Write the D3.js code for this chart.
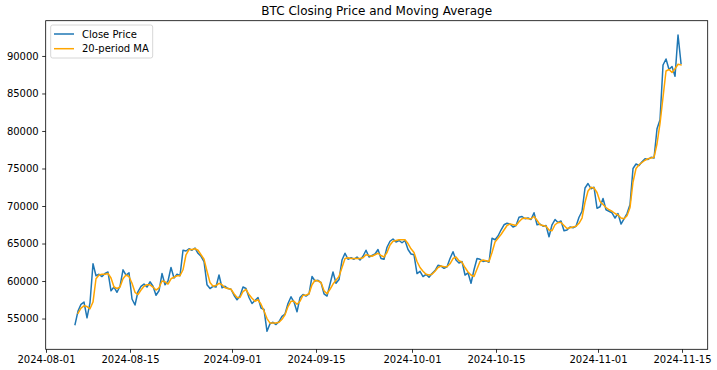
<!DOCTYPE html>
<html>
<head>
<meta charset="utf-8">
<script src="https://cdn.jsdelivr.net/npm/d3@7"></script>
<style>
    body { margin: 0; background: #fff; }
    text { font-family: "DejaVu Sans", sans-serif; fill: #000; }
</style>
</head>
<body>
<svg id="svgId"></svg>
<script>
// data: 12-hour samples starting 2024-08-05 20:00 UTC
var startTime = Date.UTC(2024, 7, 5, 20);
var stepHours = 12;

var closePrice = [
    54200, 56000, 56900, 57200, 55100, 57100, 62300, 60700, 60900, 60600,
    61000, 61200, 58700, 59200, 58500, 59300, 61500, 60800, 61100, 57600,
    56800, 58600, 59300, 59600, 59200, 59900, 59300, 58100, 58700, 61000,
    59500, 60000, 61800, 60400, 60900, 60700, 64100, 64000, 64300, 64100,
    64400, 63700, 63300, 62600, 59500, 59000, 59300, 59200, 60800, 59100,
    59300, 59000, 58900, 58100, 57500, 58000, 59200, 59000, 57800, 57000,
    57400, 57800, 56400, 56200, 53300, 54300, 54500, 54200, 54600, 55300,
    55600, 57000, 57900, 57200, 55900, 57800, 58200, 58000, 58300, 60600,
    60000, 60100, 59800, 58300, 58000, 59600, 61200, 59700, 60200, 62800,
    63700, 62900, 63100, 62900, 63200, 62800, 63300, 64100, 63200, 63400,
    63600, 64200, 63000, 62900, 64500, 65300, 65600, 65200, 65400, 65100,
    65400, 64200, 63600, 63500, 61000, 61300, 60600, 60900, 60500, 61000,
    61400, 62100, 62000, 61700, 61900, 63000, 63900, 62800, 62400, 62600,
    60800, 61100, 59700, 61500, 63000, 62900, 62600, 62700, 62500, 65700,
    65500, 66000, 66800, 67500, 67700, 67600, 67200, 67400, 68500, 68600,
    68300, 68400, 68200, 69100, 67500, 67600, 67300, 67400, 65900, 67500,
    68200, 67800, 68000, 66700, 66800, 67200, 67100, 67300, 68500, 69300,
    72400, 73000, 72300, 72500, 69700, 69900, 71000, 69500, 69300, 69100,
    68400, 69000, 67600, 68300, 69000, 70200, 75000, 75600, 75400, 75900,
    76300, 76200, 76500, 76400, 80300, 81500, 88800, 89600, 88200, 88600,
    87300, 92800, 89000
];

var movingAvg = [
    null, 55700, 56400, 56700, 56600, 56300, 57200, 60300, 60800, 60900,
    60900, 61000, 60400, 59200, 59000, 59200, 60300, 60800, 60600, 59700,
    58500, 58200, 58800, 59300, 59500, 59500, 59200, 58800, 59100, 60000,
    59900, 59600, 60300, 60500, 60700, 60700, 61500, 63500, 64200, 64200,
    64300, 64100, 63500, 62900, 61300, 59800, 59300, 59400, 59700, 59500,
    59100, 59000, 58900, 58300, 57800, 57800, 58600, 58900, 58200, 57700,
    57300, 57500, 56900, 56000, 55000, 54400, 54400, 54400, 54500, 54900,
    55500, 56600, 57300, 57300, 56900, 57300, 58100, 58100, 58300, 59500,
    60100, 60000, 59800, 58700, 58300, 58900, 59600, 60100, 60600, 61800,
    63000, 63100, 63000, 63000, 63000, 63000, 63100, 63500, 63400, 63300,
    63500, 63700, 63400, 63200, 63800, 64800, 65300, 65400, 65500, 65500,
    65500, 65000, 64300, 63800, 62600, 61800, 61300, 60900, 60800, 60900,
    61300, 61800, 62000, 61900, 61900, 62300, 63000, 63200, 62700, 62500,
    61800, 61200, 60800, 60600, 61600, 62600, 62800, 62700, 62600, 63800,
    65200, 65700, 66200, 66800, 67400, 67600, 67500, 67400, 67900, 68300,
    68400, 68300, 68300, 68600, 68100, 67500, 67400, 67300, 66800, 66700,
    67500, 67800, 67800, 67400, 67000, 67100, 67200, 67300, 67700, 68400,
    70500, 72000, 72500, 72400, 71800, 70600, 70200, 69800, 69500, 69300,
    69000, 68800, 68400, 68300, 68700, 69800, 73200, 75000, 75500, 75800,
    76100, 76300, 76400, 76500, 78300, 81000, 84500, 88000, 88200, 87800,
    88300, 88900, 88800
];

var yTicks = [55000, 60000, 65000, 70000, 75000, 80000, 85000, 90000];
var xTickLabels = ["2024-08-01", "2024-08-15", "2024-09-01", "2024-09-15",
    "2024-10-01", "2024-10-15", "2024-11-01", "2024-11-15"];
var seriesNames = ["Close Price", "20-period MA"];
var seriesColors = ["#1f77b4", "orange"];

function drawChart() {

    var svgWidth = 717, svgHeight = 370;
    var margin = { top: 20.7, right: 9.3, bottom: 20.7, left: 45.7 };
    var width = svgWidth - margin.left - margin.right;
    var height = svgHeight - margin.top - margin.bottom;

    var svg = d3.select("#svgId")
        .attr("width", svgWidth)
        .attr("height", svgHeight);

    // title
    svg.append("text")
        .attr("x", margin.left + width / 2)
        .attr("y", 15)
        .attr("text-anchor", "middle")
        .style("font-size", "12px")
        .text("BTC Closing Price and Moving Average");

    var g = svg.append("g")
        .attr("transform", "translate(" + margin.left + "," + margin.top + ")");

    var parse = d3.utcParse("%Y-%m-%d");
    var dates = closePrice.map(function (d, i) { return new Date(startTime + i * stepHours * 3600 * 1000); });

    // x axis range
    var x = d3.scaleUtc()
        .domain([new Date(Date.UTC(2024, 6, 31, 22, 48)), new Date(Date.UTC(2024, 10, 19, 6, 43))])
        .range([0, width]);

    var y = d3.scaleLinear()
        .domain([50900, 94700])
        .range([height, 0]);

    var xAxis = d3.axisBottom(x)
        .tickValues(xTickLabels.map(parse))
        .tickFormat(d3.utcFormat("%Y-%m-%d"))
        .tickSizeInner(3.5).tickSizeOuter(0).tickPadding(3.5);

    var yAxis = d3.axisLeft(y)
        .tickValues(yTicks)
        .tickFormat(d3.format("d"))
        .tickSizeInner(3.5).tickSizeOuter(0).tickPadding(3.5);

    var gx = g.append("g")
        .attr("transform", "translate(0," + height + ")")
        .call(xAxis);
    var gy = g.append("g").call(yAxis);

    [gx, gy].forEach(function (a) {
        a.select(".domain").remove();
        a.selectAll("line").attr("stroke", "#000").attr("stroke-width", 0.8);
        a.selectAll("text").style("font-size", "10px").attr("fill", "#000");
    });

    // lines
    var line = d3.line()
        .defined(function (d) { return d != null; })
        .x(function (d, i) { return x(dates[i]); })
        .y(function (d) { return y(d); });

    [closePrice, movingAvg].forEach(function (s, k) {
        g.append("path")
            .datum(s)
            .attr("fill", "none")
            .attr("stroke", seriesColors[k])
            .attr("stroke-width", 1.5)
            .attr("stroke-linejoin", "round")
            .attr("stroke-linecap", "square")
            .attr("d", line);
    });

    // frame
    g.append("rect")
        .attr("width", width)
        .attr("height", height)
        .attr("fill", "none")
        .attr("stroke", "#000")
        .attr("stroke-width", 0.8);

    // legend
    var lg = g.append("g").attr("transform", "translate(5,4.3)");
    lg.append("rect")
        .attr("width", 102)
        .attr("height", 33)
        .attr("rx", 2)
        .attr("fill", "#fff")
        .attr("fill-opacity", 0.8)
        .attr("stroke", "#cccccc")
        .attr("stroke-width", 0.8);

    seriesNames.forEach(function (name, k) {
        var yy = 9 + k * 14.7;
        lg.append("line")
            .attr("x1", 3.3).attr("x2", 23.3)
            .attr("y1", yy).attr("y2", yy)
            .attr("stroke", seriesColors[k])
            .attr("stroke-width", 1.5);
        lg.append("text")
            .attr("x", 31.3)
            .attr("y", yy)
            .attr("dy", "0.35em")
            .style("font-size", "10px")
            .text(name);
    });
}

drawChart();
</script>
</body>
</html>
